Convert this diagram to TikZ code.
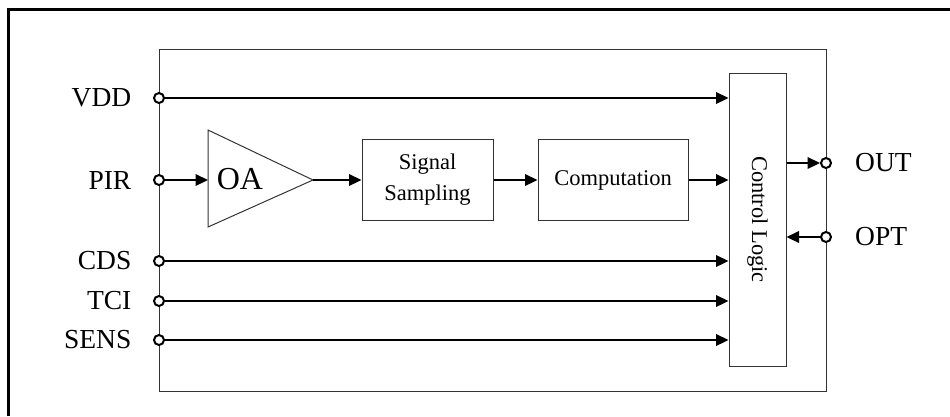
\documentclass[tikz,border=0pt]{standalone}
\usepackage{fontspec}
\setmainfont{Liberation Serif}
\usetikzlibrary{positioning, arrows.meta, calc}

\begin{document}
\begin{tikzpicture}[
  x=1pt, y=-1pt,
  node distance=21.5pt,
  blk/.style={draw=black!80, line width=1pt, align=center, inner sep=0pt},
  sig/.style={-{Triangle[length=12.5pt, width=11.5pt]}, line width=2.2pt},
  pin/.style={circle, draw, fill=white, line width=2pt, inner sep=0pt, minimum size=10pt},
  lbl/.style={font=\fontsize{27.5}{30}\selectfont, inner sep=0pt},
  txt/.style={font=\fontsize{22.5}{31}\selectfont}
]
  \useasboundingbox (0,0) rectangle (950,416);
  \draw[line width=3pt] (8,416) -- (8,9) -- (950,9);

  \node[blk, minimum width=667pt, minimum height=342pt] (chip) at (492.5,220) {};
  \node[blk, minimum width=57pt, minimum height=293pt] (ctl) at (757.5,219.5) {};
  \node[txt, rotate=-90] (ctltxt) at (ctl) {Control Logic};
  \node[blk, txt, minimum width=131pt, minimum height=81pt] (samp) at (427.5,180) {Signal\\Sampling};
  \node[blk, txt, minimum width=150pt, minimum height=81pt] (comp) at (613,180) {Computation};

  \coordinate (oain) at (208,180);
  \coordinate (oaout) at (313,180);
  \draw[draw=black!80, line width=1pt] (208,130) -- (oaout) -- (208,227) -- cycle;
  \node[font=\fontsize{32}{34}\selectfont, inner sep=0pt] (oa) at (240,179) {OA};

  \node[pin] (vdd) at (159,98) {};
  \node[pin] (pir) at (159,180) {};
  \node[pin] (cds) at (159,261) {};
  \node[pin] (tci) at (159,301) {};
  \node[pin] (sens) at (159,340) {};
  \node[pin] (out) at (826,163) {};
  \node[pin] (opt) at (826,237) {};

  \node[lbl, left=of vdd] (vddl) {VDD};
  \node[lbl, left=of pir] (pirl) {PIR};
  \node[lbl, left=of cds] (cdsl) {CDS};
  \node[lbl, left=of tci] (tcil) {TCI};
  \node[lbl, left=of sens] (sensl) {SENS};
  \node[lbl, right=23pt of out] (outl) {OUT};
  \node[lbl, right=23pt of opt] (optl) {OPT};

  \draw[sig] (vdd) -- (vdd -| ctl.west);
  \draw[sig] (pir) -- (oain);
  \draw[sig] (oaout) -- (samp);
  \draw[sig] (samp) -- (comp);
  \draw[sig] (comp) -- (comp -| ctl.west);
  \draw[sig] (cds) -- (cds -| ctl.west);
  \draw[sig] (tci) -- (tci -| ctl.west);
  \draw[sig] (sens) -- (sens -| ctl.west);
  \draw[sig] (ctl.east |- out) -- (out);
  \draw[sig] (opt) -- (opt -| ctl.east);
\end{tikzpicture}
\end{document}
